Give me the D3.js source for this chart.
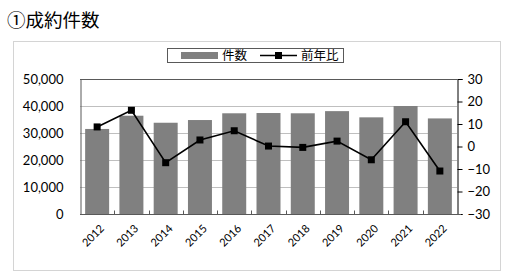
<!DOCTYPE html>
<html>
<head>
<meta charset="utf-8">
<script src="https://cdn.jsdelivr.net/npm/d3@7"></script>
<style>
  body { margin:0; background:#fff; }
  svg { display:block; }
  text { font-family: Lato, "Noto Sans", sans-serif; fill:#000; }
  .jp { font-family: "Noto Sans CJK JP", sans-serif; }
</style>
</head>
<body>
<svg width="512" height="279"></svg>
<script>
const years  = ['2012','2013','2014','2015','2016','2017','2018','2019','2020','2021','2022'];
const counts = [31500, 36400, 33800, 34800, 37300, 37400, 37300, 38100, 35800, 40000, 35400];
const yoy    = [8.7, 16.1, -7.2, 2.9, 7.0, 0.2, -0.4, 2.4, -5.9, 11.0, -10.9];
const leftTicks  = [0, 10000, 20000, 30000, 40000, 50000];
const rightTicks = [-30, -20, -10, 0, 10, 20, 30];

const P = { left:80, right:457, top:79, bottom:214 };

const svg = d3.select('svg');

// title
svg.append('text').attr('class','jp')
  .attr('x', 7).attr('y', 27)
  .style('font-size','18.5px')
  .text('①成約件数');

// outer frame
svg.append('rect')
  .attr('x', 13.5).attr('y', 41.5).attr('width', 487).attr('height', 229)
  .attr('fill','none').attr('stroke','#d4d4d4');

const x = d3.scaleBand().domain(years).range([P.left, P.right]).paddingInner(0.3).paddingOuter(0.15);
const yL = d3.scaleLinear().domain([0, 50000]).range([P.bottom, P.top]);
const yR = d3.scaleLinear().domain([-30, 30]).range([P.bottom, P.top]);

// gridlines
svg.append('g')
  .selectAll('line')
  .data(leftTicks.slice(1, -1))
  .join('line')
    .attr('x1', P.left).attr('x2', P.right)
    .attr('y1', d => Math.round(yL(d)) + 0.5).attr('y2', d => Math.round(yL(d)) + 0.5)
    .attr('stroke', '#bfbfbf');

// bars
svg.append('g')
  .selectAll('rect')
  .data(years)
  .join('rect')
    .attr('x', d => x(d))
    .attr('width', x.bandwidth())
    .attr('y', (d, i) => yL(counts[i]))
    .attr('height', (d, i) => P.bottom - yL(counts[i]))
    .attr('fill', '#808080');

// plot border top
svg.append('line')
  .attr('x1', P.left).attr('x2', P.right)
  .attr('y1', P.top + 0.5).attr('y2', P.top + 0.5)
  .attr('stroke', '#595959');

// left axis
const axL = svg.append('g')
  .attr('transform', `translate(${P.left + 0.5},0)`)
  .call(d3.axisLeft(yL).tickValues(leftTicks).tickSize(0).tickPadding(17).tickFormat(d3.format(',')));
axL.select('.domain').attr('stroke', '#595959');
axL.selectAll('text').style('font-size', '13px').style('font-family', 'Lato, sans-serif');

// right axis
const axR = svg.append('g')
  .attr('transform', `translate(${P.right + 0.5},0)`)
  .call(d3.axisRight(yR).tickValues(rightTicks).tickSize(5).tickPadding(5));
axR.select('.domain').attr('stroke', '#000');
axR.selectAll('line').attr('stroke', '#000');
axR.selectAll('text').style('font-size', '13px').style('font-family', 'Lato, sans-serif');

// bottom axis
const step = x.step();
const axB = svg.append('g')
  .attr('transform', `translate(0,${P.bottom + 0.5})`);
axB.append('line')
  .attr('x1', P.left).attr('x2', P.right + 4)
  .attr('stroke', '#595959');
axB.selectAll('line.tk')
  .data(years.slice(1))
  .join('line')
    .attr('class','tk')
    .attr('x1', d => Math.round(x(d) - step * 0.15) + 0.5)
    .attr('x2', d => Math.round(x(d) - step * 0.15) + 0.5)
    .attr('y1', 0).attr('y2', -4)
    .attr('stroke', '#595959');
axB.selectAll('text')
  .data(years)
  .join('text')
    .attr('transform', d => `translate(${x(d) + x.bandwidth() / 2 + 5},${12}) rotate(-45)`)
    .attr('text-anchor', 'end')
    .attr('dy', '0.35em')
    .style('font-size', '11px')
    .text(d => d);

// line
const cx = (d, i) => x(years[i]) + x.bandwidth() / 2;
svg.append('path')
  .datum(yoy)
  .attr('fill', 'none')
  .attr('stroke', '#000')
  .attr('stroke-width', 1.6)
  .attr('d', d3.line().x((d, i) => cx(d, i)).y(d => yR(d)));

svg.append('g')
  .selectAll('rect')
  .data(yoy)
  .join('rect')
    .attr('x', (d, i) => cx(d, i) - 3.5)
    .attr('y', d => yR(d) - 3.5)
    .attr('width', 7).attr('height', 7)
    .attr('fill', '#000');

// legend
const lg = svg.append('g');
lg.append('rect')
  .attr('x', 167.5).attr('y', 48.5).attr('width', 176).attr('height', 14)
  .attr('fill', '#fff').attr('stroke', '#595959');
lg.append('rect')
  .attr('x', 181).attr('y', 52).attr('width', 37).attr('height', 7)
  .attr('fill', '#808080');
lg.append('text').attr('class','jp')
  .attr('x', 222).attr('y', 55.5).attr('dy', '0.36em')
  .style('font-size', '12.5px').text('件数');
lg.append('line')
  .attr('x1', 260).attr('x2', 297).attr('y1', 55.5).attr('y2', 55.5)
  .attr('stroke', '#000').attr('stroke-width', 1.6);
lg.append('rect')
  .attr('x', 275).attr('y', 52).attr('width', 7).attr('height', 7)
  .attr('fill', '#000');
lg.append('text').attr('class','jp')
  .attr('x', 301).attr('y', 55.5).attr('dy', '0.36em')
  .style('font-size', '12.5px').text('前年比');
</script>
</body>
</html>
